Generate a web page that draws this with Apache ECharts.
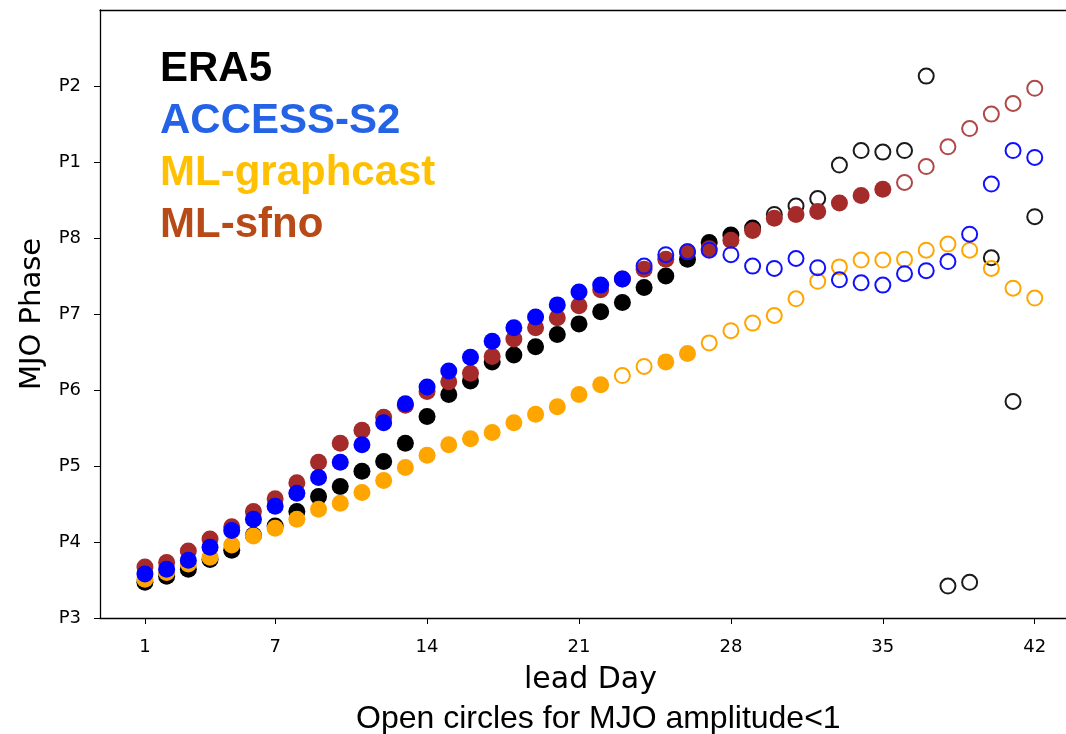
<!DOCTYPE html>
<html>
<head>
<meta charset="utf-8">
<script src="https://cdn.jsdelivr.net/npm/echarts@6/dist/echarts.min.js"></script>
<style>
  html, body { margin: 0; padding: 0; background: #fff; }
  #mjoChart { width: 1066px; height: 734px; }
</style>
</head>
<body>
<div id="mjoChart"></div>
<script>
// lead days
var leadDays = [1, 2, 3, 4, 5, 6, 7, 8, 9, 10, 11, 12, 13, 14, 15, 16, 17, 18, 19, 20, 21,
  22, 23, 24, 25, 26, 27, 28, 29, 30, 31, 32, 33, 34, 35, 36, 37, 38, 39, 40, 41, 42]

// MJO phase (P3=3 ... P8=8, P1=9, P2=10)
var era5 = [3.47, 3.55, 3.64, 3.77, 3.89, 4.09, 4.21, 4.40, 4.60, 4.73, 4.93, 5.06, 5.30, 5.65,
  5.94, 6.12, 6.37, 6.46, 6.57, 6.73, 6.87, 7.03, 7.15, 7.35, 7.50, 7.72, 7.94, 8.04, 8.13,
  8.31, 8.42, 8.52, 8.96, 9.15, 9.13, 9.15, 10.13, 3.42, 3.47, 7.74, 5.85, 8.28]
var access = [3.58, 3.64, 3.76, 3.93, 4.15, 4.30, 4.47, 4.64, 4.85, 5.05, 5.28, 5.57, 5.82, 6.04,
  6.25, 6.43, 6.64, 6.82, 6.96, 7.12, 7.29, 7.38, 7.46, 7.63, 7.78, 7.82, 7.84, 7.78, 7.63,
  7.60, 7.73, 7.61, 7.45, 7.41, 7.38, 7.53, 7.57, 7.69, 8.05, 8.71, 9.15, 9.06]
var graphcast = [3.51, 3.60, 3.71, 3.80, 3.96, 4.08, 4.18, 4.30, 4.43, 4.51, 4.65, 4.81, 4.98, 5.14,
  5.28, 5.36, 5.44, 5.57, 5.68, 5.78, 5.94, 6.07, 6.19, 6.31, 6.37, 6.48, 6.62, 6.78, 6.88,
  6.98, 7.20, 7.43, 7.62, 7.71, 7.71, 7.72, 7.84, 7.92, 7.84, 7.60, 7.34, 7.21]
var sfno = [3.67, 3.73, 3.88, 4.04, 4.20, 4.40, 4.57, 4.78, 5.05, 5.30, 5.47, 5.64, 5.80, 5.98,
  6.11, 6.22, 6.44, 6.67, 6.82, 6.95, 7.11, 7.32, 7.46, 7.59, 7.72, 7.82, 7.86, 7.97, 8.10,
  8.26, 8.31, 8.35, 8.46, 8.56, 8.64, 8.73, 8.94, 9.20, 9.44, 9.63, 9.77, 9.97]

// days with MJO amplitude < 1 (open circles)
var era5Open = [30, 31, 32, 33, 34, 35, 36, 37, 38, 39, 40, 41, 42]
var accessOpen = [24, 25, 26, 27, 28, 29, 30, 31, 32, 33, 34, 35, 36, 37, 38, 39, 40, 41, 42]
var graphcastOpen = [23, 24, 27, 28, 29, 30, 31, 32, 33, 34, 35, 36, 37, 38, 39, 40, 41, 42]
var sfnoOpen = [36, 37, 38, 39, 40, 41, 42]

var dayTicks = [1, 7, 14, 21, 28, 35, 42]
var phaseValues = [3, 4, 5, 6, 7, 8, 9, 10]
var phaseLabels = ['P3', 'P4', 'P5', 'P6', 'P7', 'P8', 'P1', 'P2']

var chart = echarts.init(document.getElementById('mjoChart'))

function buildPoints(values, openDays, fill, ring) {
  var pts = []
  for (var i = 0; i < leadDays.length; i++) {
    var isOpen = openDays.indexOf(leadDays[i]) >= 0
    pts.push({
      value: [leadDays[i], values[i]],
      symbolSize: isOpen ? 15 : 17,
      itemStyle: isOpen
        ? { color: 'rgba(255,255,255,0)', borderColor: ring, borderWidth: 2, opacity: 1 }
        : { color: fill, borderWidth: 0, opacity: 1 }
    })
  }
  return pts
}

function makeSeries(name, values, openDays, fill, ring, z) {
  return {
    name: name,
    type: 'scatter',
    symbol: 'circle',
    z: z,
    silent: true,
    itemStyle: { opacity: 1 },
    data: buildPoints(values, openDays, fill, ring)
  }
}

var legendItems = [
  { text: 'ERA5', color: '#000000', y: 68 },
  { text: 'ACCESS-S2', color: '#2563e6', y: 120 },
  { text: 'ML-graphcast', color: '#ffc000', y: 172 },
  { text: 'ML-sfno', color: '#b84a17', y: 224 }
]

var graphics = legendItems.map(function (it) {
  return {
    type: 'text',
    left: 160,
    top: it.y - 20,
    style: {
      text: it.text,
      fill: it.color,
      font: 'bold 42px "Liberation Sans", Arial, sans-serif'
    }
  }
})
graphics.push({
  type: 'text',
  left: 356,
  top: 703,
  style: {
    text: 'Open circles for MJO amplitude<1',
    fill: '#000',
    font: '32px "Liberation Sans", Arial, sans-serif'
  }
})

chart.setOption({
  animation: false,
  backgroundColor: '#fff',
  grid: {
    left: 100,
    right: 0,
    top: 10,
    bottom: 116
  },
  xAxis: [{
    type: 'value',
    min: -1.07,
    max: 43.44,
    name: 'lead Day',
    nameLocation: 'middle',
    nameGap: 47,
    nameTextStyle: { fontFamily: 'DejaVu Sans', fontSize: 30, color: '#000', padding: [0, 0, 0, 15] },
    axisLine: { show: true, onZero: false, lineStyle: { color: '#000', width: 1.3 } },
    axisTick: { show: true, length: 6, customValues: dayTicks, lineStyle: { color: '#000' } },
    axisLabel: { customValues: dayTicks, fontFamily: 'DejaVu Sans', fontSize: 18, color: '#000', margin: 20 },
    splitLine: { show: false }
  }, {
    // top spine only
    type: 'value',
    position: 'top',
    min: -1.07,
    max: 43.44,
    axisLine: { show: true, onZero: false, lineStyle: { color: '#000', width: 1.3 } },
    axisTick: { show: false },
    axisLabel: { show: false },
    splitLine: { show: false }
  }],
  yAxis: {
    type: 'value',
    min: 3,
    max: 11,
    name: 'MJO Phase',
    nameLocation: 'middle',
    nameGap: 53,
    nameTextStyle: { fontFamily: 'DejaVu Sans', fontSize: 29, color: '#000' },
    axisLine: { show: true, onZero: false, lineStyle: { color: '#000', width: 1.3 } },
    axisTick: { show: true, length: 6, customValues: phaseValues, lineStyle: { color: '#000' } },
    axisLabel: {
      customValues: phaseValues,
      fontFamily: 'DejaVu Sans',
      fontSize: 18,
      color: '#000',
      margin: 19,
      formatter: function (v) {
        var k = phaseValues.indexOf(Math.round(v))
        return k >= 0 ? phaseLabels[k] : ''
      }
    },
    splitLine: { show: false }
  },
  graphic: graphics,
  series: [
    makeSeries('ERA5', era5, era5Open, '#000000', '#1a1a1a', 2),
    makeSeries('ML-graphcast', graphcast, graphcastOpen, '#ffa500', '#ffa500', 3),
    makeSeries('ML-sfno', sfno, sfnoOpen, '#a52a2a', '#b04848', 4),
    makeSeries('ACCESS-S2', access, accessOpen, '#0000ff', '#1010ff', 5)
  ]
})
</script>
</body>
</html>
